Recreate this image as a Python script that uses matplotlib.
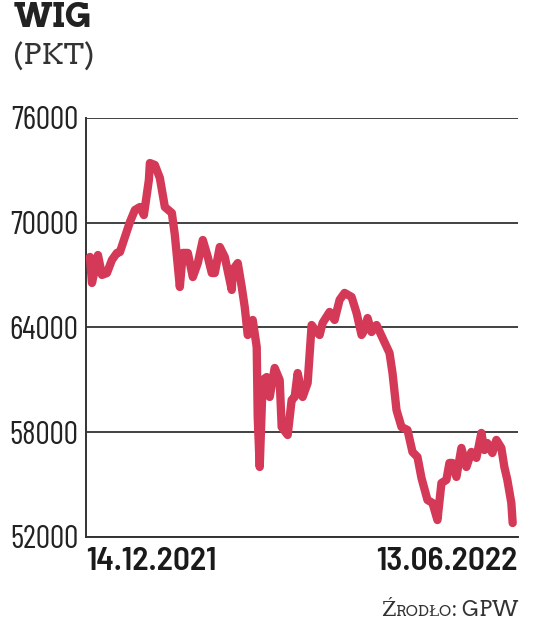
import matplotlib as mpl
mpl.use('Agg')
import matplotlib.pyplot as plt

# WIG index, sessions counted from 14.12.2021
session = [0, 0.6, 2.4, 3.6, 5.1, 6.6, 8.1, 9.0, 10.5, 12.0, 13.5, 15.0, 16.2,
           17.7, 18.0, 19.5, 21.0, 22.5, 24.6, 25.5, 27.0, 27.9, 29.4, 30.9,
           32.4, 33.9, 35.4, 36.6, 37.5, 39.0, 40.5, 42.6, 42.9, 44.4, 45.6,
           46.5, 47.4, 48.9, 50.1, 50.4, 51.0, 51.9, 53.1, 54.0, 55.5, 57.0,
           57.6, 59.4, 60.6, 61.5, 62.4, 63.9, 65.4, 66.6, 68.1, 69.0, 69.9,
           72.0, 73.5, 75.0, 76.5, 78.6, 80.1, 81.6, 82.5, 83.4, 84.6, 86.1,
           87.9, 90.0, 90.9, 92.1, 93.6, 95.4, 96.9, 98.4, 99.6, 101.4, 102.9,
           104.4, 105.6, 107.1, 108.0, 108.9, 110.1, 111.6, 113.1, 114.6,
           116.1, 117.6, 118.5, 119.4, 120.9, 122.1, 123.6, 124.5, 125.4,
           126.6, 127.0]
wig = [68040, 66550, 68150, 67010, 67120, 67870, 68270, 68320, 69180, 70040,
       70730, 70900, 70440, 72450, 73420, 73310, 72560, 70900, 70560, 69300,
       66320, 68270, 68270, 66890, 67690, 69010, 68040, 67120, 67120, 68610,
       68040, 66150, 67290, 67690, 66320, 65170, 63570, 64430, 62880, 58870,
       56010, 60990, 61160, 60020, 61680, 60990, 58300, 57840, 59850, 60020,
       61390, 60020, 60820, 64140, 63740, 63570, 64260, 64890, 64430, 65580,
       65980, 65750, 64830, 63570, 63860, 64540, 63740, 64140, 63400, 62540,
       61390, 59270, 58300, 58130, 56870, 56580, 55380, 54120, 53950, 52970,
       55090, 55270, 56240, 56240, 55440, 57100, 56010, 56870, 56530, 57960,
       56980, 57380, 56810, 57560, 57100, 56010, 55270, 53950, 52800]

yticks = [52000, 58000, 64000, 70000, 76000]
date_first = '14.12.2021'
date_last = '13.06.2022'

narrow = ['Barlow Condensed', 'DejaVu Sans']
semi = ['Barlow Semi Condensed', 'DejaVu Sans']
slab = ['Arvo', 'DejaVu Serif']

fig = plt.figure(figsize=(5.36, 6.22), dpi=100)
ax = fig.add_axes([0.1604, 0.1367, 0.806, 0.6736])

ax.plot(session, wig, color='#d43a58', lw=6, solid_joinstyle='round',
        solid_capstyle='round', zorder=3)

ax.set_xlim(-1.2, 128.6)
ax.set_ylim(52000, 76000)
ax.set_yticks(yticks)
ax.set_yticklabels([str(t) for t in yticks], family=narrow, fontsize=23,
                   color='#222222')
ax.tick_params(axis='y', length=0, pad=5.5)
ax.set_xticks([])
ax.grid(axis='y', color='#333333', lw=1.3)
ax.set_axisbelow(True)
for s in ['top', 'right']:
    ax.spines[s].set_visible(False)
for s in ['left', 'bottom']:
    ax.spines[s].set_color('#333333')
    ax.spines[s].set_linewidth(1.4)

ax.text(0, -0.025, date_first, transform=ax.transAxes, ha='left', va='top',
        family=semi, fontsize=24, fontweight='semibold', color='#1a1a1a')
ax.text(1, -0.025, date_last, transform=ax.transAxes, ha='right', va='top',
        family=semi, fontsize=24, fontweight='semibold', color='#1a1a1a')

fig.text(14 / 536, 1 - 1 / 622, 'WIG', ha='left', va='top', family=slab,
         fontsize=24, fontweight='bold', color='#222222')
fig.text(13 / 536, 1 - 42 / 622, '(PKT)', ha='left', va='top', family=slab,
         fontsize=21, color='#333333')

# source line with small caps, placed right to left
pieces = [('Ź', 15), ('RODŁO', 11), (': GPW', 15)]
fig.canvas.draw()
r = fig.canvas.get_renderer()
x = 518
for txt, size in reversed(pieces):
    t = fig.text(x / 536, 1 - 616 / 622, txt, ha='right', va='baseline',
                 family=slab, fontsize=size, color='#333333')
    x -= t.get_window_extent(r).width

fig.savefig('out.png', dpi=100)
